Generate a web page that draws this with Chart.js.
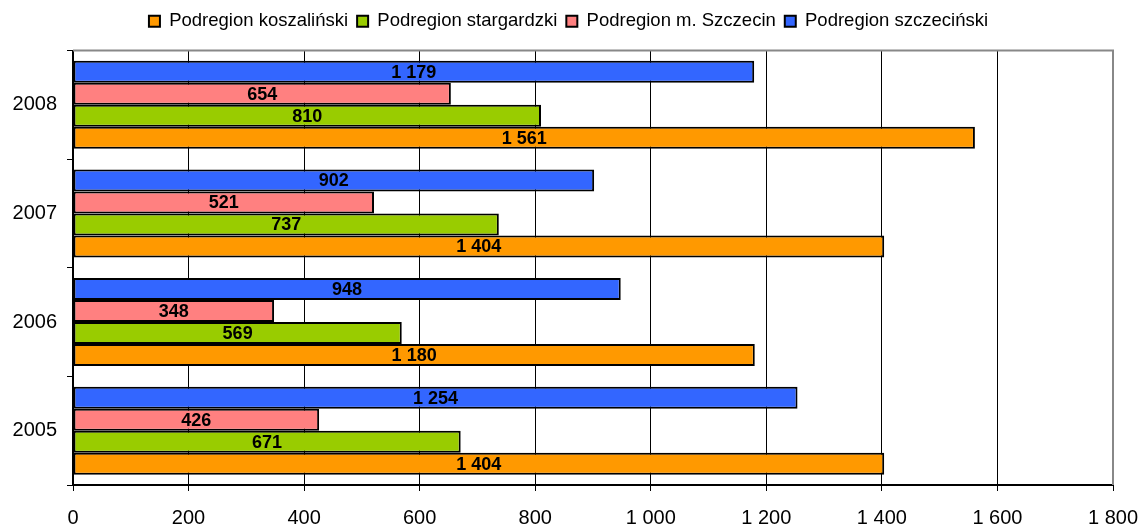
<html>
<script src="https://cdn.jsdelivr.net/npm/chart.js@4/dist/chart.umd.min.js"></script>
<style>
  body { margin: 0; background: white; }
  #wrap { width: 1142px; height: 524px; }
</style>
<body>
<div id="wrap"><canvas id="podregiony"></canvas></div>
</body>
<script>
  // years, top to bottom
  var years = ["2008", "2007", "2006", "2005"];

  // values per subregion, same order as years
  var szczecinski = [1179, 902, 948, 1254];
  var mSzczecin = [654, 521, 348, 426];
  var stargardzki = [810, 737, 569, 671];
  var koszalinski = [1561, 1404, 1180, 1404];

  var xTicks = [0, 200, 400, 600, 800, 1000, 1200, 1400, 1600, 1800];

  // "1 404" style numbers
  function spaced(n) {
    return String(n).replace(/\B(?=(\d{3})+(?!\d))/g, " ");
  }

  var valueLabels = {
    id: "valueLabels",
    afterDatasetsDraw: function(chart) {
      var ctx = chart.ctx;
      ctx.save();
      ctx.font = "bold 18px 'Liberation Sans', Arial, sans-serif";
      ctx.fillStyle = "black";
      ctx.textAlign = "center";
      ctx.textBaseline = "middle";
      chart.data.datasets.forEach(function(ds, i) {
        var meta = chart.getDatasetMeta(i);
        meta.data.forEach(function(bar, j) {
          ctx.fillText(spaced(ds.data[j]), (bar.x + bar.base) / 2, bar.y + 1);
        });
      });
      ctx.restore();
    }
  };

  // gray top and right edge of the plot
  var plotFrame = {
    id: "plotFrame",
    afterDraw: function(chart) {
      var a = chart.chartArea;
      var ctx = chart.ctx;
      ctx.save();
      ctx.strokeStyle = "#888888";
      ctx.lineWidth = 2;
      ctx.beginPath();
      ctx.moveTo(a.left, a.top);
      ctx.lineTo(a.right, a.top);
      ctx.lineTo(a.right, a.bottom);
      ctx.stroke();
      ctx.restore();
    }
  };

  // more room under the legend, and the legend row nudged right
  var legendGap = {
    id: "legendGap",
    afterInit: function(chart) {
      var legend = chart.legend;
      var fit = legend.fit;
      legend.fit = function() {
        fit.call(this);
        this.height += 10;
      };
    },
    afterLayout: function(chart) {
      chart.legend.left += 12;
      chart.legend.right += 12;
    }
  };

  function bars(label, data, color) {
    return {
      label: label,
      data: data,
      backgroundColor: color,
      borderColor: "black",
      borderWidth: 2,
      borderSkipped: false,
      categoryPercentage: 0.81,
      barPercentage: 1
    };
  }

  var tickFont = { family: "'Liberation Sans', Arial, sans-serif", size: 20 };

  new Chart(document.getElementById("podregiony"), {
    type: "bar",
    data: {
      labels: years,
      datasets: [
        bars("Podregion szczeciński", szczecinski, "#3366FF"),
        bars("Podregion m. Szczecin", mSzczecin, "#FF8080"),
        bars("Podregion stargardzki", stargardzki, "#99CC00"),
        bars("Podregion koszaliński", koszalinski, "#FF9900")
      ]
    },
    options: {
      indexAxis: "y",
      responsive: true,
      maintainAspectRatio: false,
      animation: false,
      layout: { padding: { top: 3, right: 29, left: 0, bottom: 0 } },
      plugins: {
        legend: {
          position: "top",
          reverse: true,
          labels: {
            boxWidth: 11,
            boxHeight: 11,
            padding: 9,
            color: "black",
            font: { family: "'Liberation Sans', Arial, sans-serif", size: 18.5 }
          }
        },
        tooltip: { enabled: false }
      },
      scales: {
        x: {
          min: 0,
          max: 1800,
          afterBuildTicks: function(scale) {
            scale.ticks = xTicks.map(function(v) { return { value: v }; });
          },
          afterFit: function(scale) {
            scale.height = 39;
            scale.paddingLeft = 0;
            scale.paddingRight = 0;
          },
          grid: {
            color: function(c) { return c.index === xTicks.length - 1 ? "#888888" : "black"; },
            lineWidth: 1,
            tickLength: 6,
            tickColor: "black"
          },
          border: { color: "black", width: 2 },
          ticks: {
            color: "black",
            font: tickFont,
            padding: 15,
            maxRotation: 0,
            callback: function(v) { return spaced(v); }
          }
        },
        y: {
          afterFit: function(scale) { scale.width = 73; },
          grid: {
            offset: true,
            drawOnChartArea: false,
            tickLength: 6,
            tickColor: "black"
          },
          border: { color: "black", width: 2 },
          ticks: { color: "black", font: tickFont, padding: 10 }
        }
      }
    },
    plugins: [valueLabels, plotFrame, legendGap]
  });
</script>
</html>
